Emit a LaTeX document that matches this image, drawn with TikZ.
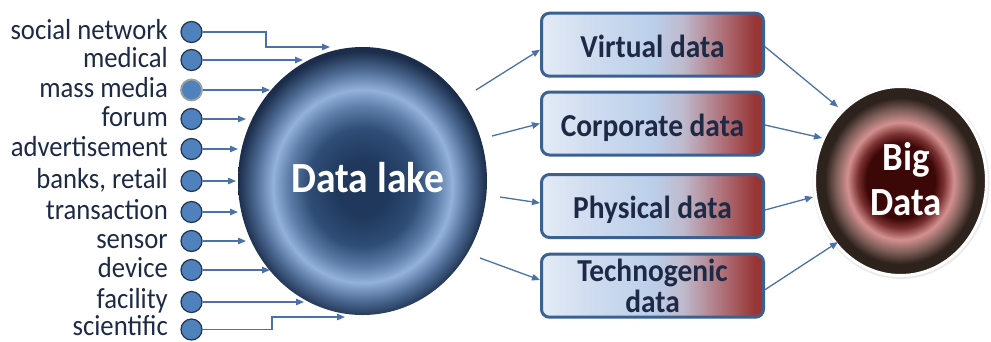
\documentclass[tikz,border=0pt]{standalone}
\usepackage{fontspec}
\setmainfont{Carlito}[FakeStretch=0.92]
\usetikzlibrary{arrows.meta,shapes.geometric}

\definecolor{ink}{HTML}{1E2A45}
\definecolor{linkblue}{HTML}{4A72A8}
\definecolor{dotfill}{HTML}{4F81BD}
\definecolor{dotline}{HTML}{22334F}
\definecolor{boxline}{HTML}{3B6193}

% data lake sphere
\definecolor{lkA}{HTML}{1F385C}
\definecolor{lkB}{HTML}{2F4D76}
\definecolor{lkC}{HTML}{5E7FAA}
\definecolor{lkD}{HTML}{93B1D9}
\definecolor{lkE}{HTML}{4E6C95}
\definecolor{lkF}{HTML}{1B2D4B}
\pgfdeclareradialshading{lakeshade}{\pgfpoint{0bp}{-1.5bp}}{%
  color(0bp)=(lkA); color(5bp)=(lkA); color(11bp)=(lkB); color(15bp)=(lkC);
  color(18bp)=(lkD); color(21.5bp)=(lkE); color(25bp)=(lkF); color(50bp)=(lkF)}

% big data sphere
\definecolor{bdA}{HTML}{3C0707}
\definecolor{bdB}{HTML}{7A3030}
\definecolor{bdC}{HTML}{D39090}
\definecolor{bdD}{HTML}{7A5C56}
\definecolor{bdE}{HTML}{2E221D}
\pgfdeclareradialshading{bigshade}{\pgfpoint{0bp}{0bp}}{%
  color(0bp)=(bdA); color(10bp)=(bdA); color(12.5bp)=(bdB); color(15.5bp)=(bdC);
  color(19bp)=(bdD); color(22bp)=(bdE); color(25bp)=(bdE); color(50bp)=(bdE)}

% data kind boxes
\definecolor{bxA}{HTML}{E3EBF6}
\definecolor{bxB}{HTML}{CEDBEF}
\definecolor{bxC}{HTML}{BCCFEA}
\definecolor{bxD}{HTML}{BFB9CC}
\definecolor{bxE}{HTML}{AE6E76}
\definecolor{bxF}{HTML}{983636}
\pgfdeclarehorizontalshading{boxshade}{100bp}{%
  color(0bp)=(bxA); color(25bp)=(bxA); color(37bp)=(bxB); color(50bp)=(bxC);
  color(57bp)=(bxD); color(66bp)=(bxE); color(73bp)=(bxF); color(100bp)=(bxF)}

\tikzset{
  lbl/.style={anchor=base east, text=ink, inner sep=0pt, font=\fontsize{29}{30}\selectfont},
  src/.style={circle, fill=dotfill, draw=dotline, line width=1.2pt, minimum size=21pt, inner sep=0pt},
  link/.style={draw=linkblue, line width=1.3pt, -{Triangle[length=8pt,width=6.5pt]}},
  kind/.style={rectangle, rounded corners=8pt, draw=boxline, line width=3pt, shading=boxshade,
    minimum width=222pt, minimum height=63pt, inner sep=0pt, text=ink,
    font=\bfseries\fontsize{32}{31}\selectfont},
  onekind/.style={kind, text height=25pt, text depth=0pt},
}

\begin{document}
\begin{tikzpicture}[x=1pt,y=-1pt]
\useasboundingbox (0,0) rectangle (991,341);

% sources
\node[lbl] (l1)  at (168,39)    {social network};
\node[lbl] (l2)  at (168,67)    {medical};
\node[lbl] (l3)  at (168,97)    {mass media};
\node[lbl] (l4)  at (168,126)   {forum};
\node[lbl] (l5)  at (168,156)   {advertisement};
\node[lbl] (l6)  at (168,188)   {banks, retail};
\node[lbl] (l7)  at (168,219)   {transaction};
\node[lbl] (l8)  at (168,248)   {sensor};
\node[lbl] (l9)  at (168,277)   {device};
\node[lbl] (l10) at (168,308)   {facility};
\node[lbl] (l11) at (168,335)   {scientific};

\node[src] (s1)  at (191.5,32)  {};
\node[src] (s2)  at (191.5,60)  {};
\node[src, draw=gray!75, line width=1.8pt] (s3) at (191.5,90) {};
\node[src] (s4)  at (191.5,119) {};
\node[src] (s5)  at (191.5,149) {};
\node[src] (s6)  at (191.5,181) {};
\node[src] (s7)  at (191.5,212) {};
\node[src] (s8)  at (191.5,241) {};
\node[src] (s9)  at (191.5,270) {};
\node[src] (s10) at (191.5,302) {};
\node[src] (s11) at (191.5,329.5) {};

% data lake
\node[ellipse, shading=lakeshade, minimum width=249pt, minimum height=268pt, inner sep=0pt] (lake) at (362.5,181) {};
\node[text=white, font=\bfseries\fontsize{43}{43}\selectfont] (lakename) at (368,178) {Data lake};

% arrow ends at the lake
\coordinate (k1)  at (266,47);
\coordinate (t1)  at (330,47);
\coordinate (t2)  at (303,60);
\coordinate (t3)  at (270,90);
\coordinate (t4)  at (246,119);
\coordinate (t5)  at (238,149);
\coordinate (t6)  at (236,181);
\coordinate (t7)  at (238,212);
\coordinate (t8)  at (246,241);
\coordinate (t9)  at (270,270);
\coordinate (t10) at (304,302);
\coordinate (k11) at (272,317);
\coordinate (t11) at (345,317);

\draw[link] (s1.east) -| (k1) -- (t1);
\draw[link] (s2.east) -- (t2);
\draw[link] (s3.east) -- (t3);
\draw[link] (s4.east) -- (t4);
\draw[link] (s5.east) -- (t5);
\draw[link] (s6.east) -- (t6);
\draw[link] (s7.east) -- (t7);
\draw[link] (s8.east) -- (t8);
\draw[link] (s9.east) -- (t9);
\draw[link] (s10.east) -- (t10);
\draw[link] (s11.east) -| (k11) -- (t11);

% kinds of data
\node[onekind] (vd) at (652.5,44.7)  {Virtual data};
\node[onekind] (cd) at (652.5,123.5) {Corporate data};
\node[onekind] (pd) at (652.5,206)   {Physical data};
\node[kind, align=center] (td) at (652.5,285.7) {Technogenic\\data};

\coordinate (o1) at (476,90);
\coordinate (o2) at (492,136);
\coordinate (o3) at (500,197);
\coordinate (o4) at (480,258);
\draw[link] (o1) -- ([yshift=-5pt]vd.west);
\draw[link] (o2) -- (cd.west);
\draw[link] (o3) -- ([yshift=3pt]pd.west);
\draw[link] (o4) -- ([yshift=5.7pt]td.west);

% big data
\node[ellipse, fill=black!8, minimum width=177pt, minimum height=194pt, inner sep=0pt] (bigshadow) at (901,182) {};
\node[ellipse, shading=bigshade, draw=white, line width=3pt, minimum width=172pt, minimum height=189pt, inner sep=0pt] (big) at (900.5,181) {};
\node[text=white, align=center, font=\bfseries\fontsize{40}{45}\selectfont] (bigname) at (906,179.5) {Big\\Data};

\coordinate (e1) at (838,107);
\coordinate (e2) at (822,138);
\coordinate (e3) at (813,197);
\coordinate (e4) at (838,242);
\draw[link] ([yshift=-2pt]vd.east) -- (e1);
\draw[link] ([yshift=-1.5pt]cd.east) -- (e2);
\draw[link] ([yshift=-4pt]pd.east) -- (e3);
\draw[link] ([yshift=-4pt]td.east) -- (e4);
\end{tikzpicture}
\end{document}
